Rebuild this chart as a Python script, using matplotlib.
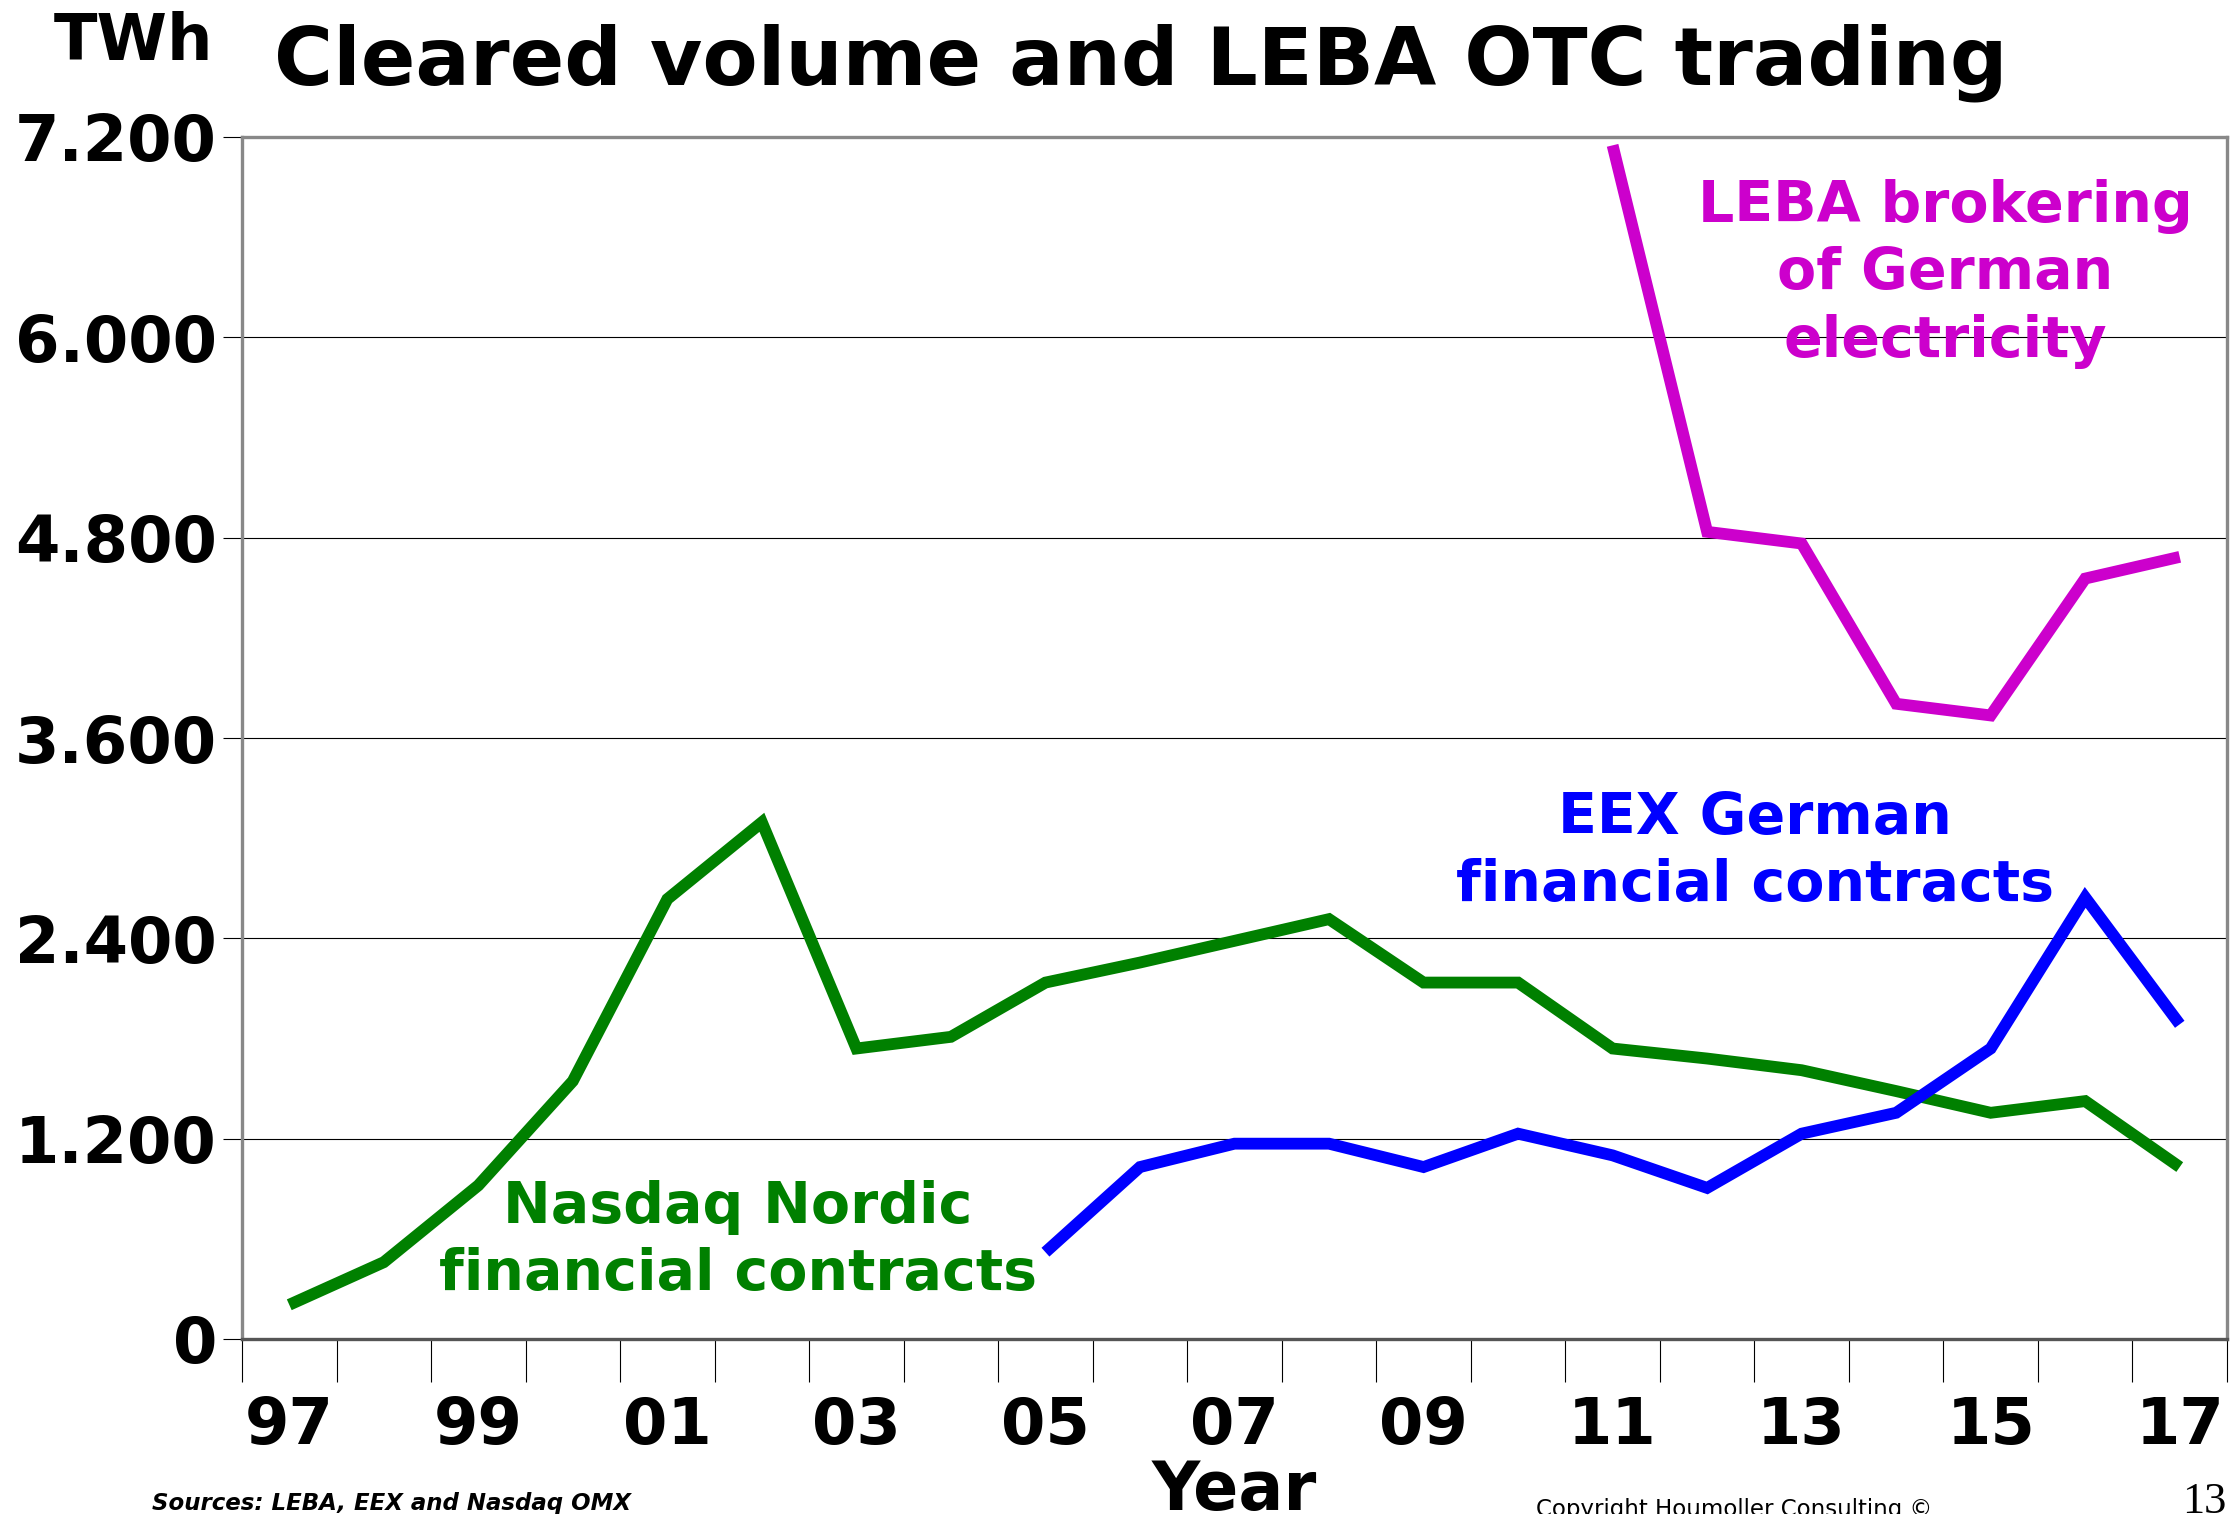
import matplotlib
matplotlib.use("Agg")
import matplotlib.pyplot as plt
import numpy as np

# ---------------- data ----------------
years = ['97', '98', '99', '00', '01', '02', '03', '04', '05', '06', '07',
         '08', '09', '10', '11', '12', '13', '14', '15', '16', '17']
nasdaq = [205, 460, 920, 1545, 2635, 3095, 1740, 1810, 2135, 2255, 2385,
          2515, 2135, 2135, 1740, 1680, 1610, 1485, 1355, 1425, 1030]
eex_years = ['05', '06', '07', '08', '09', '10', '11', '12', '13', '14', '15', '16', '17']
eex = [520, 1030, 1170, 1170, 1030, 1230, 1100, 905, 1230, 1355, 1740, 2645, 1885]
leba_years = ['11', '12', '13', '14', '15', '16', '17']
leba = [7150, 4835, 4765, 3805, 3735, 4555, 4685]
y_ticks = [0, 1200, 2400, 3600, 4800, 6000, 7200]
y_tick_labels = ['0', '1.200', '2.400', '3.600', '4.800', '6.000', '7.200']
x_label_years = years[::2]

title = 'Cleared volume and LEBA OTC trading'
unit = 'TWh'

# ---------------- figure ----------------
W, H = 2234, 1514
fig = plt.figure(figsize=(W / 100, H / 100), dpi=100)
plt.rcParams['font.family'] = ['DejaVu Sans']

L, R, T, B = 242, 2227, 137, 1339
ax = fig.add_axes([L / W, 1 - B / H, (R - L) / W, (B - T) / H])

idx = {y: i for i, y in enumerate(years)}
green, blue, magenta = '#008000', '#0000FF', '#CC00CC'
lw = 8.5
for xs, ys, c in [(years, nasdaq, green), (eex_years, eex, blue), (leba_years, leba, magenta)]:
    ax.plot([idx[y] for y in xs], ys, color=c, lw=lw,
            solid_joinstyle='miter', solid_capstyle='butt', zorder=3)

ax.set_xlim(-0.5, len(years) - 0.5)
ax.set_ylim(0, 7200)

# y axis
ax.set_yticks(y_ticks)
ax.set_yticklabels(y_tick_labels, fontsize=46, fontweight='bold')
ax.tick_params(axis='y', length=14, width=0.8, pad=4, color='black')
ax.yaxis.grid(True, color='black', lw=0.8)

# x axis: boundary ticks (major) and labels at category centres (minor)
ax.set_xticks(np.arange(-0.5, len(years), 1.0))
ax.set_xticklabels([])
ax.tick_params(axis='x', which='major', length=31, width=0.8, color='black')
ax.set_xticks([idx[y] for y in x_label_years], minor=True)
ax.set_xticklabels(x_label_years, minor=True, fontsize=46, fontweight='bold')
ax.tick_params(axis='x', which='minor', length=0, pad=40)

for s in ax.spines.values():
    s.set_color('#888888')
    s.set_linewidth(2.4)
ax.spines['bottom'].set_color('#555555')

def px(x, y):
    return x / W, 1 - y / H

fig.text(*px(274, 85), title, fontsize=58, fontweight='bold', va='baseline', ha='left')
fig.text(*px(54, 60), unit, fontsize=46, fontweight='bold', va='baseline', ha='left')
fig.text(*px((L + R) / 2, 1458), 'Year', fontsize=48, fontweight='bold', va='top', ha='center')

fig.text(*px(1945, 274), 'LEBA brokering\nof German\nelectricity', color=magenta,
         fontsize=41, fontweight='bold', ha='center', va='center', linespacing=1.28)
fig.text(*px(1755, 852), 'EEX German\nfinancial contracts', color=blue,
         fontsize=41, fontweight='bold', ha='center', va='center', linespacing=1.28)
fig.text(*px(738, 1241), 'Nasdaq Nordic\nfinancial contracts', color=green,
         fontsize=41, fontweight='bold', ha='center', va='center', linespacing=1.28)

fig.text(*px(152, 1492), 'Sources: LEBA, EEX and Nasdaq OMX', fontsize=16.5,
         fontweight='bold', fontstyle='italic', va='top', ha='left')
fig.text(*px(1536, 1498), 'Copyright Houmoller Consulting \u00a9', fontsize=16.5,
         va='top', ha='left')
fig.text(*px(2182, 1482), '13', fontsize=32, family='Liberation Serif',
         va='top', ha='left')

fig.savefig('out.png', dpi=100)
